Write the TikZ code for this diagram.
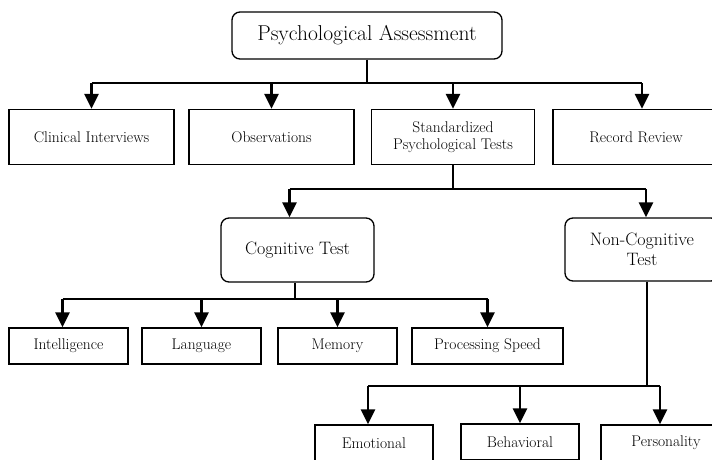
\documentclass[tikz,border=0pt]{standalone}
\usepackage{tikz}
\usetikzlibrary{arrows.meta, positioning}

\tikzset{
    box/.style={rectangle,draw,line width=1.3pt,align=center,inner sep=2pt,font=\fontsize{15.5}{16.5}\selectfont},
    rbox/.style={box,rounded corners=8pt,font=\fontsize{18}{19.5}\selectfont},
    bus/.style={line width=1.3pt},
    arr/.style={line width=2.4pt,-{Triangle[width=14pt,length=15pt]}}
}

\begin{document}
\begin{tikzpicture}[x=1pt,y=-1pt]
    \useasboundingbox (0,0) rectangle (712,459);
    \clip (0,0) rectangle (712,459);

    % Radice
    \node[rbox,font=\fontsize{21.5}{24}\selectfont,minimum width=270pt,minimum height=47pt] (pa) at (367,35.5) {Psychological Assessment};

    % Primo livello
    \node[box,minimum width=165pt,minimum height=55pt] (ci) at (91.5,137) {Clinical Interviews};
    \node[box,minimum width=165pt,minimum height=55pt] (obs) at (271.5,137) {Observations};
    \node[box,minimum width=163pt,minimum height=55pt] (spt) at (453,137) {Standardized\\Psychological Tests};
    \node[box,minimum width=166pt,minimum height=55pt] (rr) at (636,137) {Record Review};

    \coordinate (b1) at (367,83);
    \draw[bus] (pa) -- (b1);
    \draw[bus] (ci |- b1) -- ([xshift=6pt]rr.north |- b1);
    \foreach \n in {ci,obs,spt}
        \draw[arr] (\n |- b1) -- (\n);
    \draw[arr] ([xshift=6pt]rr.north |- b1) -- ([xshift=6pt]rr.north);

    % Test
    \node[rbox,minimum width=153pt,minimum height=64pt] (cog) at (297.5,250) {Cognitive Test};
    \node[rbox,minimum width=154pt,minimum height=63pt] (ncog) at (642,249.5) {Non-Cognitive\\Test};

    \coordinate (b2) at (453,189);
    \draw[bus] (spt) -- (b2);
    \draw[bus] ([xshift=-8pt]cog.north |- b2) -- ([xshift=4pt]ncog.north |- b2);
    \draw[arr] ([xshift=-8pt]cog.north |- b2) -- ([xshift=-8pt]cog.north);
    \draw[arr] ([xshift=4pt]ncog.north |- b2) -- ([xshift=4pt]ncog.north);

    % Cognitivi
    \node[box,minimum width=119pt,minimum height=36pt] (int) at (68.5,346) {Intelligence};
    \node[box,minimum width=119pt,minimum height=36pt] (lang) at (201.5,346) {Language};
    \node[box,minimum width=119pt,minimum height=36pt] (mem) at (337.5,346) {Memory};
    \node[box,minimum width=151pt,minimum height=36pt] (ps) at (487.5,346) {Processing Speed};

    \coordinate (b3) at (295,299);
    \draw[bus] (cog.south -| b3) -- (b3);
    \draw[bus] ([xshift=-6pt]int.north |- b3) -- (ps |- b3);
    \draw[arr] ([xshift=-6pt]int.north |- b3) -- ([xshift=-6pt]int.north);
    \foreach \n in {lang,mem,ps}
        \draw[arr] (\n |- b3) -- (\n);

    % Non cognitivi
    \node[box,minimum width=118pt,minimum height=36pt] (emo) at (374,443) {Emotional};
    \node[box,minimum width=118pt,minimum height=36pt] (beh) at (520,442) {Behavioral};
    \node[box,minimum width=130pt,minimum height=36pt] (per) at (666,443) {Personality};

    \coordinate (b4) at (647,386);
    \draw[bus] ([xshift=5pt]ncog.south) -- (b4);
    \draw[bus] ([xshift=-6pt]emo.north |- b4) -- ([xshift=-6pt]per.north |- b4);
    \draw[arr] ([xshift=-6pt]emo.north |- b4) -- ([xshift=-6pt]emo.north);
    \draw[arr] (beh |- b4) -- (beh);
    \draw[arr] ([xshift=-6pt]per.north |- b4) -- ([xshift=-6pt]per.north);
\end{tikzpicture}
\end{document}
